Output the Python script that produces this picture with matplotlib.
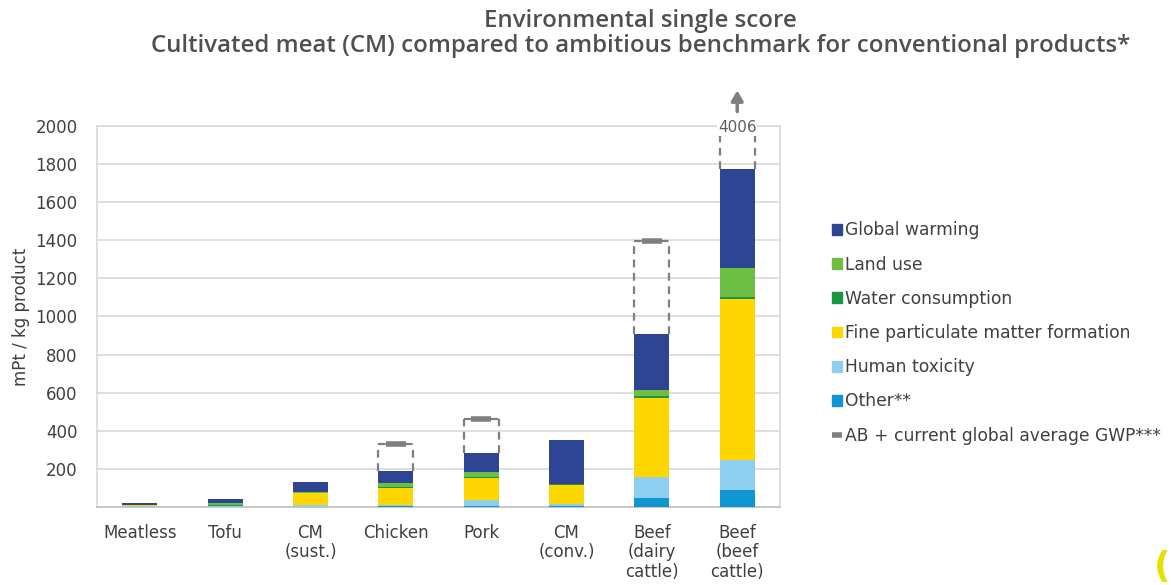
import matplotlib
matplotlib.use("Agg")
import matplotlib.pyplot as plt
import numpy as np
from matplotlib.patches import Rectangle
from matplotlib.lines import Line2D

categories = ["Meatless", "Tofu", "CM\n(sust.)", "Chicken", "Pork", "CM\n(conv.)",
              "Beef\n(dairy\ncattle)", "Beef\n(beef\ncattle)"]
# stacked components, bottom to top
other      = [2, 2, 3, 4, 8, 4, 47, 89]
human_tox  = [3, 3, 8, 8, 30, 12, 111, 158]
fine_pm    = [4, 3, 62, 88, 115, 103, 414, 845]
water      = [2, 2, 2, 5, 5, 2, 10, 8]
land_use   = [3, 12, 5, 21, 26, 0, 32, 155]
global_warm = [6, 20, 51, 63, 99, 231, 294, 519]
# AB + current global average GWP (None = not shown)
benchmark = [None, None, None, 330, 460, None, 1395, 4006]

series = [
    ("Other**", other, "#0F96D2"),
    ("Human toxicity", human_tox, "#8ECFF0"),
    ("Fine particulate matter formation", fine_pm, "#FFD700"),
    ("Water consumption", water, "#1A9641"),
    ("Land use", land_use, "#6DBE45"),
    ("Global warming", global_warm, "#2E4593"),
]

fig = plt.figure(figsize=(11.71, 5.85), dpi=100)
ax = fig.add_axes([0.083, 0.133, 0.583, 0.652])
x = np.arange(len(categories))
width = 0.41
bottom = np.zeros(len(categories))
for name, vals, col in series:
    ax.bar(x, vals, width, bottom=bottom, color=col, label=name, zorder=3)
    bottom += np.array(vals)

ymax = 2000
gray = "#7F7F7F"
dash = (0, (3.5, 2.5))
for xi, top, bm in zip(x, bottom, benchmark):
    if bm is None:
        continue
    upper = min(bm, ymax + 40)
    for dx in (-width / 2, width / 2):
        ax.plot([xi + dx, xi + dx], [top, upper], ls=dash, color=gray,
                lw=1.6, zorder=4, clip_on=False)
    if bm <= ymax:
        ax.plot([xi - width / 2, xi + width / 2], [bm, bm], ls=dash,
                color=gray, lw=1.6, zorder=4)
        ax.plot([xi - 0.12, xi + 0.12], [bm, bm], color=gray, lw=4,
                solid_capstyle="butt", zorder=5)
    else:
        ax.text(xi, 1990, f"{bm}", ha="center", va="center", fontsize=11,
                color="#606060", zorder=6, clip_on=False,
                bbox=dict(facecolor="white", edgecolor="none", pad=0.5))
        ax.annotate("", xy=(xi, 2200), xytext=(xi, 2060),
                    arrowprops=dict(arrowstyle="-|>,head_width=0.35,head_length=0.6",
                                    color=gray, lw=2.5), annotation_clip=False)

ax.set_ylim(0, ymax)
ax.set_xlim(-0.5, len(categories) - 0.5)
ax.set_yticks(np.arange(200, 2001, 200))
ax.set_xticks(x)
ax.set_xticklabels(categories, fontsize=12, color="#404040", linespacing=1.1)
ax.tick_params(axis="y", labelsize=12, labelcolor="#404040", length=0, pad=14)
ax.tick_params(axis="x", length=0, pad=12)
ax.grid(axis="y", color="#D9D9D9", lw=1.2, zorder=0)
for s in ax.spines.values():
    s.set_color("#D9D9D9")
    s.set_linewidth(1.2)
ax.spines["bottom"].set_color("#BFBFBF")
ax.set_ylabel("mPt / kg product", fontsize=12, color="#404040", labelpad=4)

fig.suptitle("Environmental single score\nCultivated meat (CM) compared to ambitious benchmark for conventional products*",
             x=0.547, y=0.984, fontsize=17.3, fontweight="semibold", color="#505050",
             family="Open Sans", linespacing=1.05)

handles = [Rectangle((0, 0), 1, 1, color=c) for _, _, c in reversed(series)]
labels = [n for n, _, _ in reversed(series)]
handles.append(Line2D([0], [0], color=gray, lw=4, solid_capstyle="butt"))
labels.append("AB + current global average GWP***")
leg = fig.legend(handles, labels, loc="upper left", bbox_to_anchor=(0.697, 0.648),
                 frameon=False, fontsize=12.3, handlelength=0.6, handleheight=0.6,
                 handletextpad=0.2, labelspacing=0.95, labelcolor="#404040")

fig.text(0.992, 0.03, "(", fontsize=26, color="#E8E000", fontweight="bold",
         ha="center", va="center")

fig.savefig("out.png", dpi=100)
